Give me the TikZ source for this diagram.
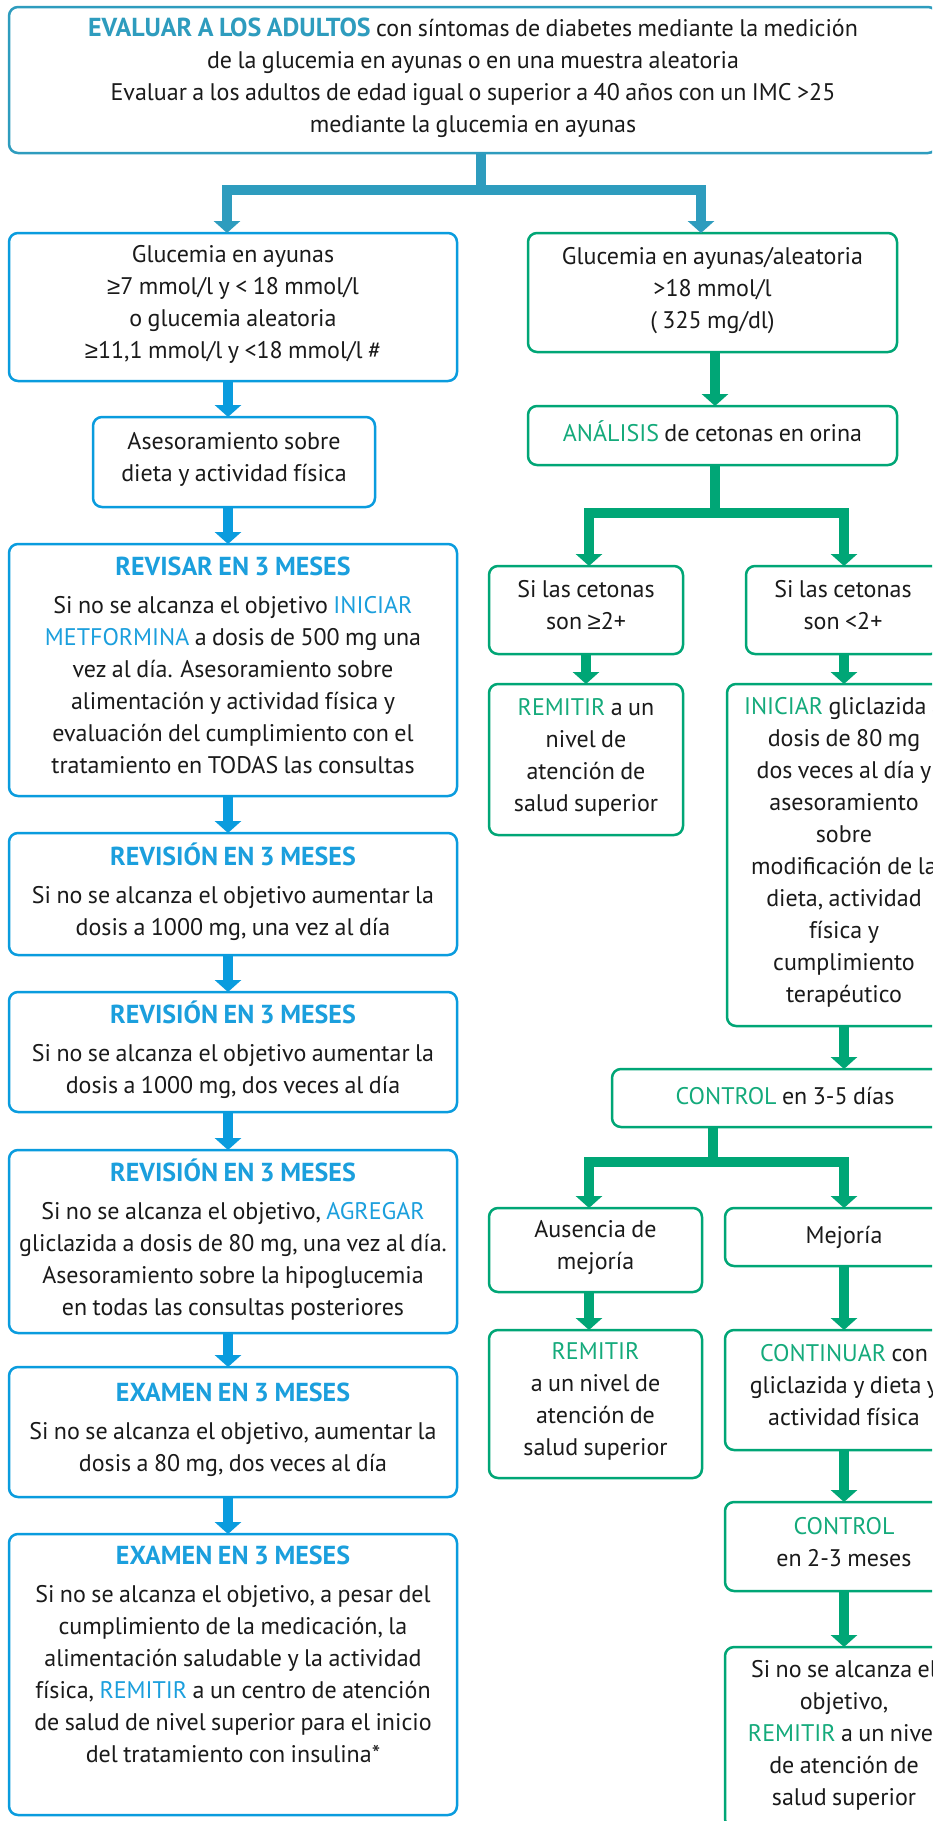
\documentclass[tikz,border=0pt]{standalone}
\usepackage{fontspec}
\setmainfont{PT Sans}[WordSpace=0.85]
\newfontfamily\symfont{Liberation Sans}
\usetikzlibrary{arrows.meta}

\definecolor{trunkteal}{HTML}{2E9CBE}
\definecolor{lineblue}{HTML}{0A9CDE}
\definecolor{textblue}{HTML}{1B9FDD}
\definecolor{linegreen}{HTML}{00A676}
\definecolor{textgreen}{HTML}{14AA7B}
\definecolor{ink}{HTML}{1A1A1A}

\newcommand\bodysize{\fontsize{24}{32}\selectfont}
\newcommand\headsize{\fontsize{26}{32}\selectfont}
\newcommand\gte{{\symfont ≥}}
\newcommand\tb[1]{{\color{textblue}#1}}
\newcommand\tg[1]{{\color{textgreen}#1}}
\newcommand\ttl[1]{{\headsize\bfseries\color{textblue}#1}\\[6pt]}

\tikzset{
  box/.style={draw, line width=2.5pt, rounded corners=9pt, fill=white,
    align=center, inner sep=0pt, outer sep=0pt, text=ink, font=\bodysize,
    execute at begin node=\strut, execute at end node=\strut},
  topbox/.style={box, draw=trunkteal},
  bbox/.style={box, draw=lineblue},
  gbox/.style={box, draw=linegreen},
  conn/.style={line width=10pt, line join=miter},
  tconn/.style={conn, draw=trunkteal},
  bconn/.style={conn, draw=lineblue, -{Triangle[width=26pt,length=12pt]}},
  gconn/.style={conn, draw=linegreen, -{Triangle[width=26pt,length=12pt]}},
  gline/.style={conn, draw=linegreen},
}

\begin{document}
\begin{tikzpicture}[x=1pt,y=-1pt]
\useasboundingbox (0,0) rectangle (932,1821);
\clip (0,0) rectangle (932,1821);
\fill[white] (0,0) rectangle (932,1821);

% ---------- top box ----------
\node[topbox, minimum width=928pt, minimum height=146pt] (T) at (473,80)
  {{\headsize\bfseries\color{trunkteal}EVALUAR A LOS ADULTOS} con síntomas de diabetes mediante la medición\\
   de la glucemia en ayunas o en una muestra aleatoria\\
   Evaluar a los adultos de edad igual o superior a 40 años con un IMC >25\\
   mediante la glucemia en ayunas};

% ---------- left column ----------
\node[bbox, minimum width=448pt, minimum height=148pt] (L1) at (233,307)
  {Glucemia en ayunas\\ \gte7 mmol/l y < 18 mmol/l\\ o glucemia aleatoria\\ \gte11,1 mmol/l y <18 mmol/l \#};
\node[bbox, minimum width=282pt, minimum height=90pt] (L2) at (234,462)
  {Asesoramiento sobre\\ dieta y actividad física};
\node[bbox, minimum width=448pt, minimum height=252pt] (L3) at (233,670)
  {\ttl{REVISAR EN 3 MESES}
   Si no se alcanza el objetivo \tb{INICIAR}\\
   \tb{METFORMINA} a dosis de 500 mg una\\
   vez al día. Asesoramiento sobre\\
   alimentación y actividad física y\\
   evaluación del cumplimiento con el\\
   tratamiento en TODAS las consultas};
\node[bbox, minimum width=448pt, minimum height=122pt] (L4) at (233,894)
  {\ttl{REVISIÓN EN 3 MESES}
   Si no se alcanza el objetivo aumentar la\\
   dosis a 1000 mg, una vez al día};
\node[bbox, minimum width=448pt, minimum height=120pt] (L5) at (233,1052)
  {\ttl{REVISIÓN EN 3 MESES}
   Si no se alcanza el objetivo aumentar la\\
   dosis a 1000 mg, dos veces al día};
\node[bbox, minimum width=448pt, minimum height=183pt] (L6) at (233,1241.5)
  {\ttl{REVISIÓN EN 3 MESES}
   Si no se alcanza el objetivo, \tb{AGREGAR}\\
   gliclazida a dosis de 80 mg, una vez al día.\\
   Asesoramiento sobre la hipoglucemia\\
   en todas las consultas posteriores};
\node[bbox, minimum width=448pt, minimum height=130pt] (L7) at (233,1432)
  {\ttl{EXAMEN EN 3 MESES}
   Si no se alcanza el objetivo, aumentar la\\
   dosis a 80 mg, dos veces al día};
\node[bbox, minimum width=448pt, minimum height=281pt] (L8) at (233,1674.5)
  {\ttl{EXAMEN EN 3 MESES}
   Si no se alcanza el objetivo, a pesar del\\
   cumplimiento de la medicación, la\\
   alimentación saludable y la actividad\\
   física, \tb{REMITIR} a un centro de atención\\
   de salud de nivel superior para el inicio\\
   del tratamiento con insulina*\\ \mbox{}};

% ---------- right column ----------
\node[gbox, minimum width=369pt, minimum height=119pt] (R1) at (712.5,292.5)
  {Glucemia en ayunas/aleatoria\\ >18 mmol/l\\ ( 325 mg/dl)};
\node[gbox, minimum width=369pt, minimum height=59pt] (R2) at (712.5,435.5)
  {\tg{ANÁLISIS} de cetonas en orina};
\node[gbox, minimum width=194pt, minimum height=88pt] (R3a) at (586,610)
  {Si las cetonas\\ son \gte2+};
\node[gbox, minimum width=194pt, minimum height=88pt] (R3b) at (843,610)
  {Si las cetonas\\ son <2+};
\node[gbox, minimum width=194pt, minimum height=151pt] (R4a) at (586,759.5)
  {\tg{REMITIR} a un\\ nivel de\\ atención de\\ salud superior};
\node[gbox, minimum width=234pt, minimum height=342pt] (R4b) at (844,855)
  {\tg{INICIAR} gliclazida a\\ dosis de 80 mg\\ dos veces al día y\\ asesoramiento\\ sobre\\
   modificación de la\\ dieta, actividad\\ física y\\ cumplimiento\\ terapéutico};
\node[gbox, minimum width=346pt, minimum height=58pt] (R5) at (785,1098)
  {\tg{CONTROL} en 3-5 días};
\node[gbox, minimum width=213pt, minimum height=84pt] (R6a) at (595.5,1250)
  {Ausencia de\\ mejoría};
\node[gbox, minimum width=238pt, minimum height=58pt] (R6b) at (844,1237)
  {Mejoría};
\node[gbox, minimum width=213pt, minimum height=148pt] (R7a) at (595.5,1404)
  {\tg{REMITIR}\\ a un nivel de\\ atención de\\ salud superior};
\node[gbox, minimum width=238pt, minimum height=120pt] (R7b) at (844,1390)
  {\tg{CONTINUAR} con\\ gliclazida y dieta y\\ actividad física};
\node[gbox, minimum width=238pt, minimum height=89pt] (R8) at (844,1546.5)
  {\tg{CONTROL}\\ en 2-3 meses};
\node[gbox, minimum width=238pt, minimum height=181pt] (R9) at (844,1737.5)
  {Si no se alcanza el\\ objetivo,\\ \tg{REMITIR} a un nivel\\ de atención de\\ salud superior};

% ---------- connector guides ----------
\coordinate (tj) at (481,190);
\coordinate (xl) at (227,0);
\coordinate (xr) at (701,0);
\coordinate (bx) at (228,0);
\coordinate (gx) at (715,0);
\coordinate (gj1) at (715,513);
\coordinate (ga) at (589,0);
\coordinate (gb) at (844,0);
\coordinate (gj2) at (713,1162);

% ---------- first split ----------
\draw[tconn] (T.south -| tj) -- (tj);
\draw[tconn, {Triangle[width=26pt,length=12pt]}-{Triangle[width=26pt,length=12pt]}]
  (L1.north -| xl) |- (tj) -| (R1.north -| xr);

% ---------- left chain ----------
\draw[bconn] (L1.south -| bx) -- (L2.north -| bx);
\draw[bconn] (L2.south -| bx) -- (L3.north -| bx);
\draw[bconn] (L3.south -| bx) -- (L4.north -| bx);
\draw[bconn] (L4.south -| bx) -- (L5.north -| bx);
\draw[bconn] (L5.south -| bx) -- (L6.north -| bx);
\draw[bconn] (L6.south -| bx) -- (L7.north -| bx);
\draw[bconn] (L7.south -| bx) -- (L8.north -| bx);

% ---------- right chain ----------
\draw[gconn] (R1.south -| gx) -- (R2.north -| gx);
\draw[gline] (R2.south -| gj1) -- (gj1);
\draw[gline, {Triangle[width=26pt,length=12pt]}-{Triangle[width=26pt,length=12pt]}]
  (R3a.north -| ga) |- (gj1) -| (R3b.north -| gb);
\draw[gconn] (R3a.south) -- (R4a.north);
\draw[gconn] (R3b.south -| gb) -- (R4b.north -| gb);
\draw[gconn] (R4b.south -| gb) -- (R5.north -| gb);
\draw[gline] (R5.south -| gj2) -- (gj2);
\draw[gline, {Triangle[width=26pt,length=12pt]}-{Triangle[width=26pt,length=12pt]}]
  (R6a.north -| ga) |- (gj2) -| (R6b.north -| gb);
\draw[gconn] (R6a.south -| ga) -- (R7a.north -| ga);
\draw[gconn] (R6b.south -| gb) -- (R7b.north -| gb);
\draw[gconn] (R7b.south -| gb) -- (R8.north -| gb);
\draw[gconn] (R8.south -| gb) -- (R9.north -| gb);
\end{tikzpicture}
\end{document}
